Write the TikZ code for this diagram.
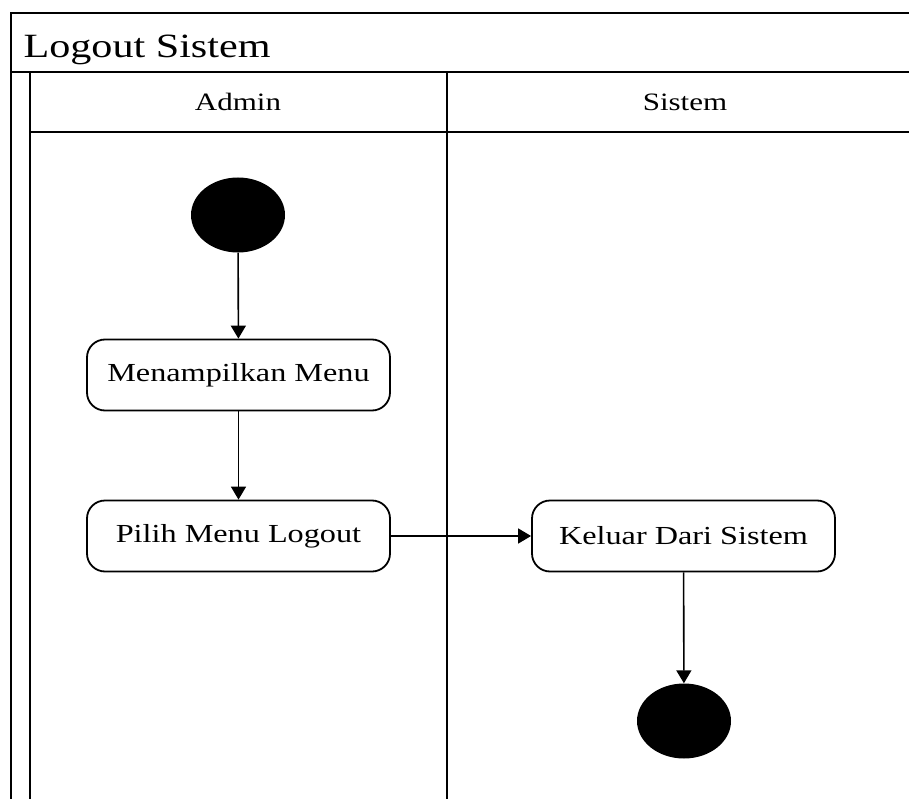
\documentclass[tikz,border=0pt]{standalone}
\usepackage{fontspec}
\setmainfont{Liberation Serif}[FakeStretch=1.24]
\usetikzlibrary{shapes,shapes.geometric}
\usetikzlibrary{arrows.meta}
\usetikzlibrary{positioning}

\begin{document}
\begin{tikzpicture}[x=1pt,y=-1pt]
\tikzset{activity/.style={rectangle,draw,line width=1.8pt,rounded corners=18pt,minimum width=303pt,minimum height=71pt,font=\fontsize{26}{30}\selectfont},
  startend/.style={ellipse,fill=black,minimum width=94pt,minimum height=75pt,inner sep=0pt},
  flow/.style={line width=1.6pt,-{Triangle[length=13pt,width=15pt]}},
  lane/.style={line width=2pt}}
\useasboundingbox (0,0) rectangle (909,799);
\clip (0,0) rectangle (909,799);
% swimlane frame
\draw[lane] (11,820) -- (11,13) -- (940,13);
\draw[lane] (11,72) -- (940,72);
\draw[lane] (30,820) -- (30,72);
\draw[lane] (30,132) -- (940,132);
\draw[lane] (447,72) -- (447,820);
\node[anchor=base west,font=\fontsize{34}{40}\selectfont](title) at (20,58){Logout Sistem};
\node[anchor=base,font=\fontsize{25}{30}\selectfont](admin) at (238,111){Admin};
\node[anchor=base,font=\fontsize{25}{30}\selectfont](sistem) at (685,111){Sistem};
% activities
\node[startend](start) at (238,215){};
\node[activity](menu) at (238.5,375){Menampilkan Menu};
\node[activity](pilih) at (238.5,536){Pilih Menu Logout};
\node[activity](keluar) at (683.5,536){Keluar Dari Sistem};
\node[startend](end) at (684,721){};
\draw[flow](start) -- (menu);
\draw[flow](menu) -- (pilih);
\draw[flow](pilih) -- (keluar);
\draw[flow](keluar) -- (end);
\end{tikzpicture}
\end{document}
